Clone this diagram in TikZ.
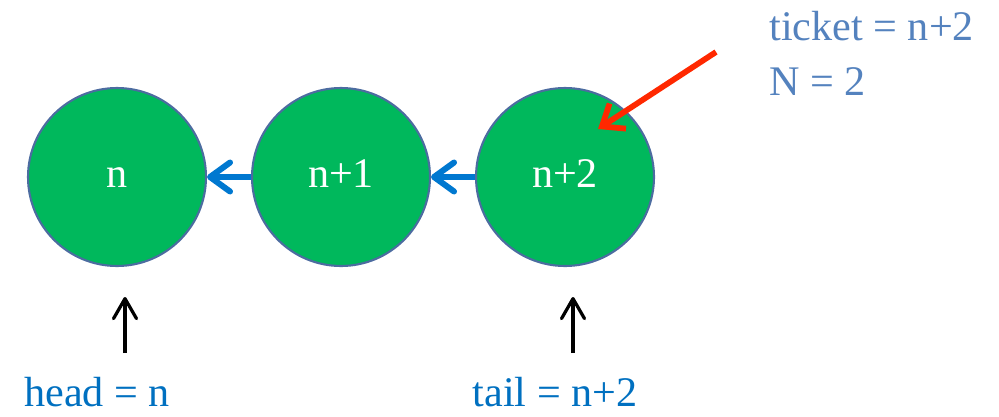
\documentclass[tikz,border=0pt]{standalone}
\usepackage{fontspec}
\setmainfont{Liberation Serif}
\usetikzlibrary{arrows.meta}
\definecolor{nodegreen}{RGB}{0,184,92}
\definecolor{rimblue}{RGB}{76,108,160}
\definecolor{linkblue}{RGB}{0,120,208}
\definecolor{textblue}{RGB}{0,112,192}
\definecolor{notegray}{RGB}{84,130,190}
\definecolor{pointred}{RGB}{255,40,0}
\tikzset{
  slot/.style={circle,fill=nodegreen,draw=rimblue,line width=1.2pt,minimum size=3.56cm,inner sep=0pt,text=white,text height=12.5pt,text depth=0pt},
  link/.style={draw=linkblue,line width=0.12cm,-{Straight Barb[length=0.4cm,width=0.58cm,round]}},
  upptr/.style={draw=black,line width=0.065cm,-{Straight Barb[length=0.4cm,width=0.46cm,round]}},
  tag/.style={anchor=base,inner sep=0pt,text depth=0pt}
}
\begin{document}
\begin{tikzpicture}[x=0.02cm,y=-0.02cm,font=\fontsize{24}{28}\selectfont]
        \useasboundingbox (0,0) rectangle (999,416);
        \node[slot](a)at(117,177){n};
        \node[slot](b)at(341,177){n+1};
        \node[slot](c)at(565,177){n+2};
        \draw[link] (b.west)--(a.east);
        \draw[link] (c.west)--(b.east);
        \coordinate(h0)at(125,353);\coordinate(h1)at(125,297);
        \coordinate(t0)at(573,353);\coordinate(t1)at(573,297);
        \draw[upptr] (h0)--(h1);
        \draw[upptr] (t0)--(t1);
        \node[tag,text=textblue](head)at(97,406){head = n};
        \node[tag,text=textblue](tail)at(555,406){tail = n+2};
        \node[tag,text=notegray,anchor=base west](ticket)at(769,40){ticket = n+2};
        \node[tag,text=notegray,anchor=base west](count)at(769,95){N = 2};
        \coordinate(r0)at(716,52);\coordinate(r1)at(598,129);
        \draw[draw=pointred,line width=0.115cm,-{Straight Barb[length=0.38cm,width=0.6cm]}] (r0)--(r1);
    \end{tikzpicture}
\end{document}
